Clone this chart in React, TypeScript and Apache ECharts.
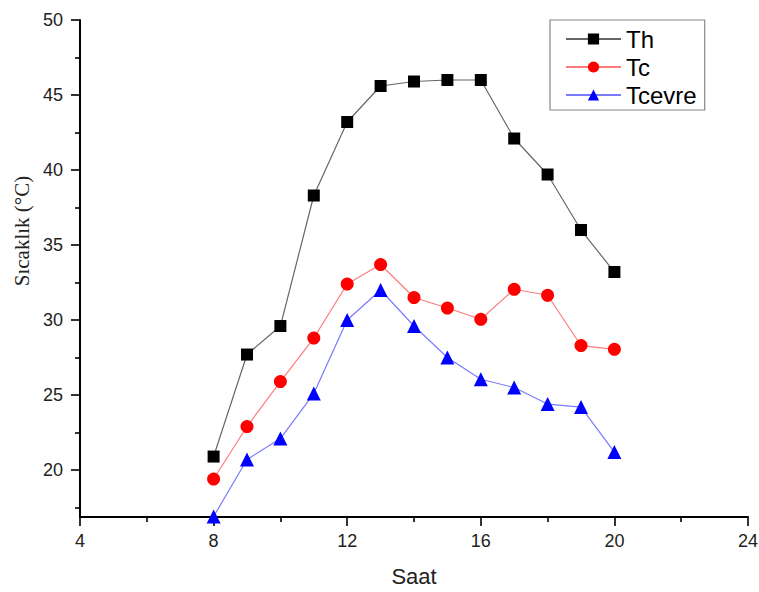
import React, { useEffect, useRef } from "react";
import * as echarts from "echarts";

// Hour of day
const hours = [8, 9, 10, 11, 12, 13, 14, 15, 16, 17, 18, 19, 20];
// Temperatures (°C)
const th = [20.9, 27.7, 29.6, 38.3, 43.2, 45.6, 45.9, 46.0, 46.0, 42.1, 39.7, 36.0, 33.2];
const tc = [19.4, 22.9, 25.9, 28.8, 32.4, 33.7, 31.5, 30.8, 30.05, 32.05, 31.65, 28.3, 28.05];
const tcevre = [16.9, 20.7, 22.1, 25.1, 30.0, 32.0, 29.6, 27.5, 26.05, 25.5, 24.4, 24.2, 21.2];

const yMajorTicks = [20, 25, 30, 35, 40, 45, 50];
const yMinorTicks = [17.5, 22.5, 27.5, 32.5, 37.5, 42.5, 47.5];

const FONT = "'Liberation Sans', Arial, sans-serif";

function pairs(ys: number[]) {
  return hours.map((h, i) => [h, ys[i]]);
}

export default function App() {
  const ref = useRef<HTMLDivElement>(null);

  useEffect(() => {
    if (!ref.current) return;
    const chart = echarts.init(ref.current, null, { renderer: "svg" });
    const axisLine = { show: true, lineStyle: { color: "#000", width: 2 } };
    const tickStyle = { color: "#000", width: 1.6 };
    chart.setOption({
      animation: false,
      backgroundColor: "#fff",
      grid: { left: 80, right: 11, top: 20, bottom: 75, outerBoundsMode: "none" },
      legend: {
        orient: "vertical",
        left: 550,
        top: 20,
        padding: [7, 8, 3, 15],
        itemGap: 4,
        itemWidth: 55,
        itemHeight: 14,
        borderColor: "#888",
        borderWidth: 1.2,
        textStyle: { fontFamily: FONT, fontSize: 24, color: "#000" },
        data: ["Th", "Tc", "Tcevre"],
      },
      xAxis: {
        type: "value",
        min: 4,
        max: 24,
        interval: 4,
        name: "Saat",
        nameLocation: "middle",
        nameGap: 48,
        nameTextStyle: { fontFamily: FONT, fontSize: 22, color: "#222" },
        axisLine,
        axisTick: { show: true, length: 9, lineStyle: tickStyle },
        minorTick: { show: true, splitNumber: 2, length: 5, lineStyle: tickStyle },
        axisLabel: {
          fontFamily: FONT,
          fontSize: 18,
          color: "#222",
          margin: 15,
          showMaxLabel: true,
          hideOverlap: false,
        },
        splitLine: { show: false },
      },
      yAxis: [
        {
          type: "value",
          min: 16.87,
          max: 50,
          axisLine,
          axisTick: {
            show: true,
            length: 9,
            customValues: yMajorTicks,
            lineStyle: tickStyle,
          },
          axisLabel: {
            fontFamily: FONT,
            fontSize: 18,
            color: "#222",
            margin: 17,
            customValues: yMajorTicks,
          },
          splitLine: { show: false },
        },
        {
          type: "value",
          position: "left",
          min: 16.87,
          max: 50,
          axisLine: { show: false },
          axisTick: {
            show: true,
            length: 5,
            customValues: yMinorTicks,
            lineStyle: tickStyle,
          },
          axisLabel: { show: false },
          splitLine: { show: false },
        },
      ],
      graphic: [
        {
          type: "text",
          x: 22,
          y: 231,
          rotation: Math.PI / 2,
          style: {
            text: "Sıcaklık (°C)",
            fontFamily: "'Liberation Serif', 'Times New Roman', serif",
            fontSize: 21,
            fill: "#222",
            align: "center",
            verticalAlign: "middle",
          },
        },
      ],
      series: [
        {
          name: "Th",
          type: "line",
          data: pairs(th),
          symbol: "rect",
          symbolSize: 12,
          itemStyle: { color: "#000" },
          lineStyle: { color: "#666", width: 1.2 },
        },
        {
          name: "Tc",
          type: "line",
          data: pairs(tc),
          symbol: "circle",
          symbolSize: 13,
          itemStyle: { color: "#ff0000" },
          lineStyle: { color: "#ff7a7a", width: 1.2 },
        },
        {
          name: "Tcevre",
          type: "line",
          data: pairs(tcevre),
          symbol: "triangle",
          symbolSize: 14,
          itemStyle: { color: "#0000ff" },
          lineStyle: { color: "#7a7aff", width: 1.2 },
        },
      ],
    });
    return () => chart.dispose();
  }, []);

  return (
    <div
      ref={ref}
      style={{ position: "absolute", left: 0, top: 0, width: 759, height: 592 }}
    />
  );
}
